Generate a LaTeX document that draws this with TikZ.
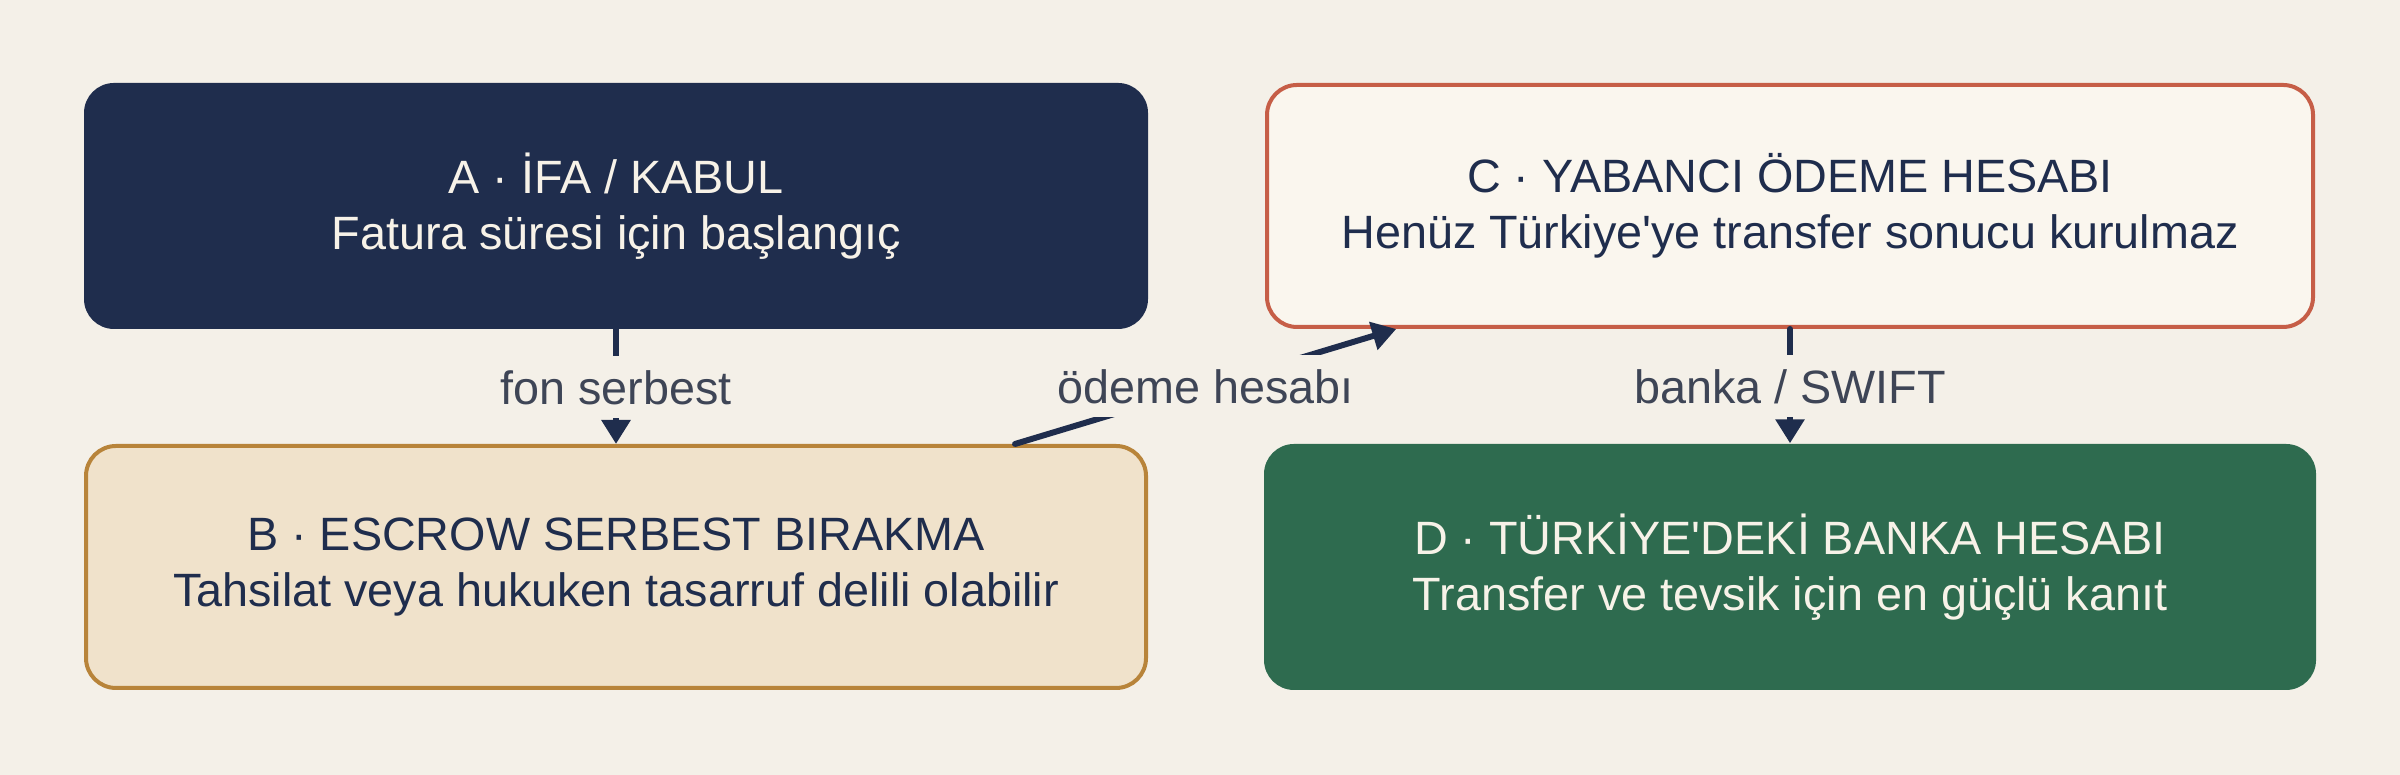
\documentclass[tikz,border=0pt]{standalone}
\usepackage{fontspec}
\setmainfont{Liberation Sans}
\usetikzlibrary{arrows.meta,calc}
\definecolor{bgpaper}{HTML}{F4F0E8}
\definecolor{navy}{HTML}{1F2D4D}
\definecolor{cream}{HTML}{F7F2E8}
\definecolor{rust}{HTML}{C65E47}
\definecolor{ivory}{HTML}{FAF6EE}
\definecolor{ochre}{HTML}{B8843A}
\definecolor{sand}{HTML}{F0E2CB}
\definecolor{pine}{HTML}{2E6B4F}
\definecolor{slate}{HTML}{3E4556}
\begin{document}
\begin{tikzpicture}[
  box/.style={rounded corners=0.3cm, align=center, inner sep=0pt,
    font=\fontsize{13.3pt}{16pt}\selectfont},
  darkbox/.style={box, fill=#1, text=cream, minimum width=10.6cm, minimum height=2.46cm},
  linebox/.style={box, fill=#1, text=navy, line width=0.04cm, minimum width=10.5cm, minimum height=2.42cm},
  lbl/.style={fill=bgpaper, text=slate, font=\fontsize{13.3pt}{15.6pt}\selectfont,
    text height=0.35cm, text depth=0cm, inner xsep=0.1cm, inner ysep=0.135cm},
  flow/.style={draw=navy, line width=1.7pt, line cap=round,
    -{Triangle[width=0.28cm,length=0.24cm]}}
]
\fill[bgpaper] (0,0) rectangle (24,7.75);
\useasboundingbox (0,0) rectangle (24,7.75);
% boxes
\node[darkbox=navy, minimum width=10.64cm] (ifa) at (6.16,5.69) {A · İFA / KABUL\\Fatura süresi için başlangıç};
\node[linebox=sand, draw=ochre, minimum width=10.60cm] (escrow) at (6.16,2.08) {B · ESCROW SERBEST BIRAKMA\\Tahsilat veya hukuken tasarruf delili olabilir};
\node[linebox=ivory, draw=rust, minimum width=10.46cm] (yabanci) at (17.90,5.69) {C · YABANCI ÖDEME HESABI\\Henüz Türkiye\textquotesingle ye transfer sonucu kurulmaz};
\node[darkbox=pine, minimum width=10.52cm] (banka) at (17.90,2.08) {D · TÜRKİYE\textquotesingle DEKİ BANKA HESABI\\Transfer ve tevsik için en güçlü kanıt};
% connectors
\draw[flow] (ifa.south) -- node[lbl] {fon serbest} (escrow.north);
\draw[flow] ($(escrow.north)!0.75!(escrow.north east)$) -- node[lbl] {ödeme hesabı} ($(yabanci.south)!0.75!(yabanci.south west)$);
\draw[flow] (yabanci.south) -- node[lbl] {banka / SWIFT} (banka.north);
\end{tikzpicture}
\end{document}
